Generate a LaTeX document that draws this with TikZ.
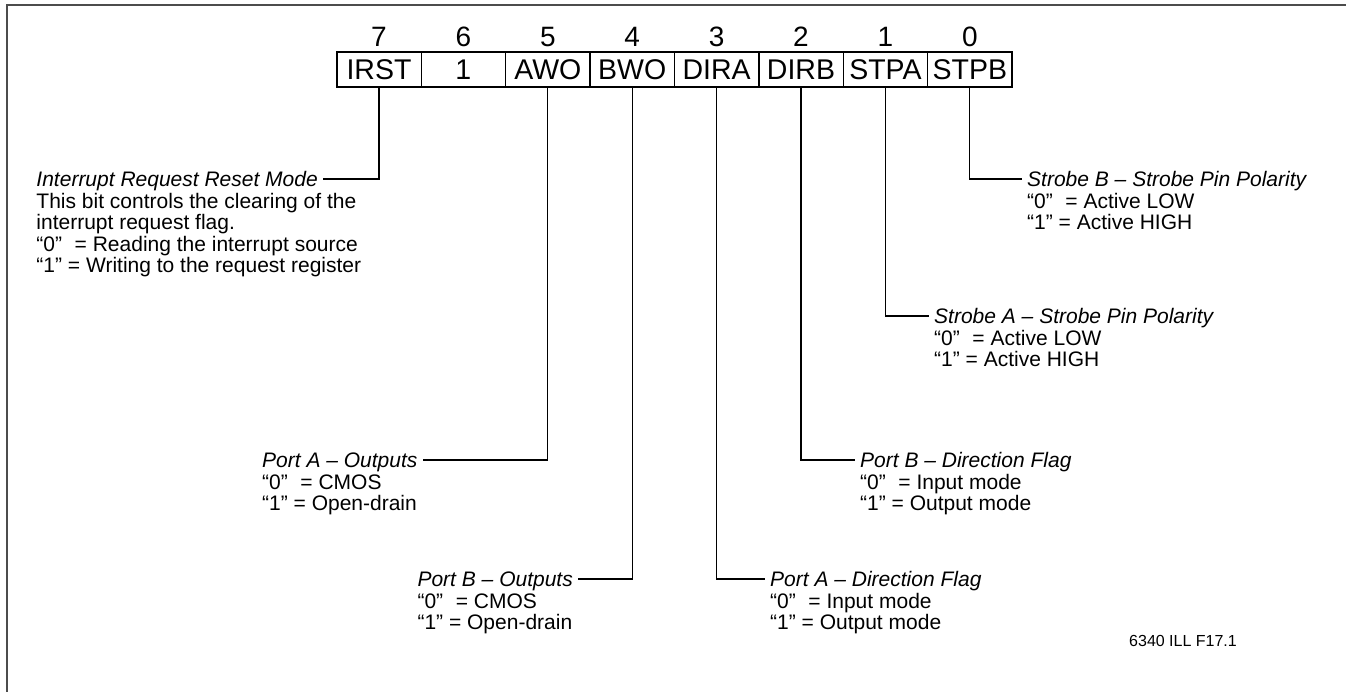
\documentclass[tikz,border=0pt]{standalone}
\usepackage{fontspec}
\setmainfont{Liberation Sans}
\usetikzlibrary{positioning}

\begin{document}
\begin{tikzpicture}[x=1pt,y=-1pt,
    cell/.style={draw, line width=1.4pt, outer sep=0pt, minimum width=84.4pt, minimum height=35pt, inner sep=0pt, font=\fontsize{28.5}{30}\selectfont},
    bitnum/.style={inner sep=0pt, text depth=0pt, font=\fontsize{28}{30}\selectfont},
    head/.style={inner xsep=5pt, inner ysep=0pt, text height=15pt, text depth=0pt, font=\fontsize{21}{22}\selectfont\itshape},
    body/.style={inner sep=0pt, align=left, font=\fontsize{21}{21.2}\selectfont},
    conn/.style={line width=1.2pt}]
    \useasboundingbox (0,0) rectangle (1346,692);
    % frame
    \draw[line width=1.5pt, black!70] (7,692) -- (7,5) -- (1346,5);
    % register
    \node[cell] (irst) at (379,69.5) {IRST};
    \node[cell, right=0pt of irst] (one) {1};
    \node[cell, right=0pt of one] (awo) {AWO};
    \node[cell, right=0pt of awo] (bwo) {BWO};
    \node[cell, right=0pt of bwo] (dira) {DIRA};
    \node[cell, right=0pt of dira] (dirb) {DIRB};
    \node[cell, right=0pt of dirb] (stpa) {STPA};
    \node[cell, right=0pt of stpa] (stpb) {STPB};
    \draw[line width=2.6pt] (irst.north west) rectangle (stpb.south east);
    \node[bitnum, above=5pt of irst] (b7) {7};
    \node[bitnum, above=5pt of one] (b6) {6};
    \node[bitnum, above=5pt of awo] (b5) {5};
    \node[bitnum, above=5pt of bwo] (b4) {4};
    \node[bitnum, above=5pt of dira] (b3) {3};
    \node[bitnum, above=5pt of dirb] (b2) {2};
    \node[bitnum, above=5pt of stpa] (b1) {1};
    \node[bitnum, above=5pt of stpb] (b0) {0};
    % bit 7
    \node[head, anchor=base east] (irsthead) at (323,186.5) {Interrupt Request Reset Mode};
    \node[body, below right=6.5pt and 5pt of irsthead.south west] (irstbody) {This bit controls the clearing of the\\interrupt request flag.\\“0”\hspace{0.6em}= Reading the interrupt source\\“1” = Writing to the request register};
    \draw[conn] (irst.south) |- (irsthead.east);
    % bit 5
    \node[head, anchor=base west] (awohead) at (257,467.5) {Port A – Outputs};
    \node[body, below right=6.5pt and 5pt of awohead.south west] (awobody) {“0”\hspace{0.6em}= CMOS\\“1” = Open-drain};
    \draw[conn] (awo.south) |- (awohead.east);
    % bit 4
    \node[head, anchor=base east] (bwohead) at (578,586.5) {Port B – Outputs};
    \node[body, below right=6.5pt and 5pt of bwohead.south west] (bwobody) {“0”\hspace{0.6em}= CMOS\\“1” = Open-drain};
    \draw[conn] (bwo.south) |- (bwohead.east);
    % bit 3
    \node[head, anchor=base west] (dirahead) at (765,586.5) {Port A – Direction Flag};
    \node[body, below right=6.5pt and 5pt of dirahead.south west] (dirabody) {“0”\hspace{0.6em}= Input mode\\“1” = Output mode};
    \draw[conn] (dira.south) |- (dirahead.west);
    % bit 2
    \node[head, anchor=base west] (dirbhead) at (855,467.5) {Port B – Direction Flag};
    \node[body, below right=6.5pt and 5pt of dirbhead.south west] (dirbbody) {“0”\hspace{0.6em}= Input mode\\“1” = Output mode};
    \draw[conn] (dirb.south) |- (dirbhead.west);
    % bit 1
    \node[head, anchor=base west] (stpahead) at (929,323.5) {Strobe A – Strobe Pin Polarity};
    \node[body, below right=6.5pt and 5pt of stpahead.south west] (stpabody) {“0”\hspace{0.6em}= Active LOW\\“1” = Active HIGH};
    \draw[conn] (stpa.south) |- (stpahead.west);
    % bit 0
    \node[head, anchor=base west] (stpbhead) at (1022,186.5) {Strobe B – Strobe Pin Polarity};
    \node[body, below right=6.5pt and 5pt of stpbhead.south west] (stpbbody) {“0”\hspace{0.6em}= Active LOW\\“1” = Active HIGH};
    \draw[conn] (stpb.south) |- (stpbhead.west);
    \node[anchor=base west, inner sep=0pt, font=\fontsize{16}{18}\selectfont] (figlabel) at (1129,646) {6340 ILL F17.1};
\end{tikzpicture}
\end{document}
